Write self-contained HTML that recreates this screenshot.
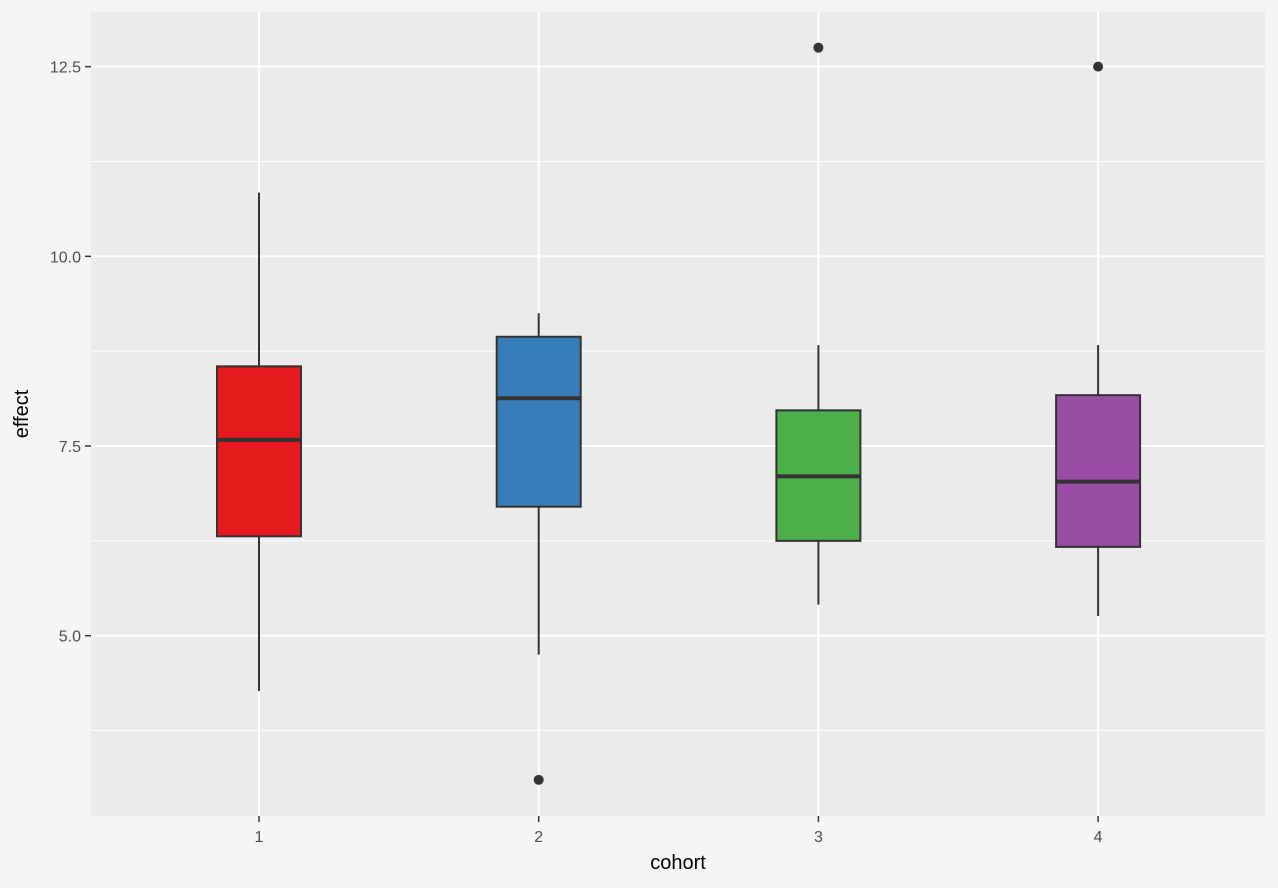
<!DOCTYPE html>
<html><head><meta charset="utf-8"><style>
html,body{margin:0;padding:0;background:#f5f5f5;overflow:hidden;width:1278px;height:888px;}
svg{display:block;}
svg text{font-family:"Liberation Sans","DejaVu Sans",sans-serif;}
</style></head><body>
<svg id="chart" width="1278" height="888" xmlns="http://www.w3.org/2000/svg">
<rect x="0" y="0" width="1278" height="888" fill="#f5f5f5"/>
<rect x="91" y="12" width="1174" height="804" fill="#ebebeb"/>
<g id="grid"></g><g id="boxes"></g><g id="axes"></g>
<text x="678" y="869" font-size="20" text-anchor="middle" fill="#000">cohort</text>
<text transform="translate(28,414) rotate(-90)" font-size="20" text-anchor="middle" fill="#000">effect</text>
</svg>
<script>
const categories=["1","2","3","4"];
const whiskerLow=[4.27,4.75,5.41,5.26];
const q1=[6.31,6.70,6.25,6.17];
const medians=[7.58,8.13,7.10,7.03];
const q3=[8.55,8.94,7.97,8.17];
const whiskerHigh=[10.84,9.25,8.83,8.83];
const outliers=[[],[3.10],[12.75],[12.5]];
const colors=["#e41a1c","#377eb8","#4daf4a","#984ea3"];
const yTicks=[5.0,7.5,10.0,12.5];
const yMinor=[3.75,6.25,8.75,11.25];
const NS="http://www.w3.org/2000/svg";
function y(v){return 446-(v-7.5)*75.87;}
function x(i){return 259+i*279.7;}
function mk(t,a,p){const e=document.createElementNS(NS,t);for(const k in a)e.setAttribute(k,a[k]);p.appendChild(e);return e;}
const g=document.getElementById('grid'),b=document.getElementById('boxes'),ax=document.getElementById('axes');
yMinor.forEach(v=>{const l=mk('line',{x1:91,x2:1265,y1:y(v),y2:y(v),stroke:'#fff','stroke-width':1},g);

});
yTicks.forEach(v=>{const l=mk('line',{x1:91,x2:1265,y1:y(v),y2:y(v),stroke:'#fff','stroke-width':2},g);


const t=mk('line',{x1:85,x2:91,y1:y(v),y2:y(v),stroke:'#333','stroke-width':1.5},ax);


const tx=mk('text',{x:81,y:y(v)+6,'font-size':16,'text-anchor':'end',fill:'#4d4d4d'},ax);tx.textContent=v.toFixed(1);

});
categories.forEach((c,i)=>{const X=x(i);
const l=mk('line',{x1:X,x2:X,y1:12,y2:816,stroke:'#fff','stroke-width':2},g);


const t=mk('line',{x1:X,x2:X,y1:816,y2:822,stroke:'#333','stroke-width':1.5},ax);


const tx=mk('text',{x:X,y:842,'font-size':16,'text-anchor':'middle',fill:'#4d4d4d'},ax);tx.textContent=c;


const w1=mk('line',{x1:X,x2:X,y1:y(whiskerHigh[i]),y2:y(q3[i]),stroke:'#333','stroke-width':2},b);


const w2=mk('line',{x1:X,x2:X,y1:y(q1[i]),y2:y(whiskerLow[i]),stroke:'#333','stroke-width':2},b);


const r=mk('rect',{x:X-42,y:y(q3[i]),width:84,height:y(q1[i])-y(q3[i]),fill:colors[i],stroke:'#333','stroke-width':2},b);


const m=mk('line',{x1:X-42,x2:X+42,y1:y(medians[i]),y2:y(medians[i]),stroke:'#333','stroke-width':4},b);


outliers[i].forEach(v=>{const o=mk('circle',{cx:X,cy:y(v),r:5,fill:'#333'},b);

});
});
</script>
</body></html>
